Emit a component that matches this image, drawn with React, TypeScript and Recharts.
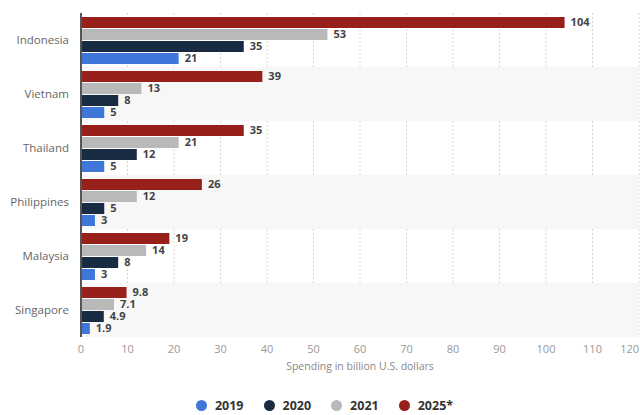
import { BarChart, Bar, XAxis, YAxis, CartesianGrid, Legend, LabelList, ReferenceArea, Label } from 'recharts';

const COUNTRIES = ['Indonesia', 'Vietnam', 'Thailand', 'Philippines', 'Malaysia', 'Singapore'];
const Y2019 = [21, 5, 5, 3, 3, 1.9];
const Y2020 = [35, 8, 12, 5, 8, 4.9];
const Y2021 = [53, 13, 21, 12, 14, 7.1];
const Y2025 = [104, 39, 35, 26, 19, 9.8];
const X_TICKS = [0, 10, 20, 30, 40, 50, 60, 70, 80, 90, 100, 110, 120];

const SERIES = [
  { key: 'y2025', name: '2025*', color: '#97201b' },
  { key: 'y2021', name: '2021', color: '#b9b9b9' },
  { key: 'y2020', name: '2020', color: '#182b42' },
  { key: 'y2019', name: '2019', color: '#3f76d9' },
];
const LEGEND_ORDER = ['2019', '2020', '2021', '2025*'];

const data = COUNTRIES.map((c, i) => ({
  country: c,
  y2019: Y2019[i],
  y2020: Y2020[i],
  y2021: Y2021[i],
  y2025: Y2025[i],
}));

const font = "'Open Sans', 'DejaVu Sans', sans-serif";

function XTick(props: any) {
  const { x, y, payload } = props;
  const last = payload.value === X_TICKS[X_TICKS.length - 1];
  return (
    <text x={last ? 639 : x} y={y} dy="0.71em" textAnchor={last ? 'end' : 'middle'} fill="#999" fontSize={11} fontFamily={font}>
      {payload.value}
    </text>
  );
}

function LegendBox() {
  return (
    <div style={{ height: 28, paddingTop: 8, boxSizing: 'border-box', display: 'flex', justifyContent: 'center', gap: 20, fontFamily: font, paddingLeft: 10 }}>
      {LEGEND_ORDER.map((n) => {
        const s = SERIES.find((x) => x.name === n)!;
        return (
          <div key={n} style={{ display: 'flex', alignItems: 'center', gap: 8 }}>
            <span style={{ width: 11, height: 11, borderRadius: '50%', background: s.color, display: 'inline-block' }} />
            <span style={{ fontSize: 12.5, fontWeight: 700, color: '#333' }}>{n}</span>
          </div>
        );
      })}
    </div>
  );
}

export default function App() {
  return (
    <div style={{ position: 'absolute', left: 0, top: 0, width: 640, height: 415, background: '#fff' }}>
      <BarChart
        width={640}
        height={415}
        data={data}
        layout="vertical"
        margin={{ top: 13, right: 1, left: 0, bottom: 0 }}
        barCategoryGap={4}
        barGap={1}
      >
        {COUNTRIES.filter((_, i) => i % 2 === 1).map((c) => (
          <ReferenceArea key={c} y1={c} y2={c} fill="#f7f7f7" fillOpacity={1} stroke="none" ifOverflow="visible" />
        ))}
        <CartesianGrid horizontal={false} stroke="#d6d6d6" strokeDasharray="2 2" />
        <XAxis
          type="number"
          domain={[0, 120]}
          ticks={X_TICKS}
          interval={0}
          axisLine={false}
          tickLine={false}
          tickMargin={2}
          height={50}
          tick={<XTick />}
        >
          <Label value="Spending in billion U.S. dollars" position="insideBottom" offset={17} style={{ fill: '#888', fontSize: 10.5, fontFamily: font }} />
        </XAxis>
        <YAxis
          type="category"
          dataKey="country"
          width={81}
          axisLine={{ stroke: '#555', strokeWidth: 2 }}
          tickLine={false}
          tickMargin={6}
          tick={{ fill: '#666', fontSize: 11.5, fontFamily: font }}
        />
        {SERIES.map((s) => (
          <Bar key={s.key} dataKey={s.key} name={s.name} fill={s.color} isAnimationActive={false}>
            <LabelList
              dataKey={s.key}
              position="right"
              offset={6}
              style={{ fill: '#444', fontSize: 11, fontWeight: 700, fontFamily: font }}
            />
          </Bar>
        ))}
        <Legend verticalAlign="bottom" content={() => <LegendBox />} />
      </BarChart>
    </div>
  );
}
